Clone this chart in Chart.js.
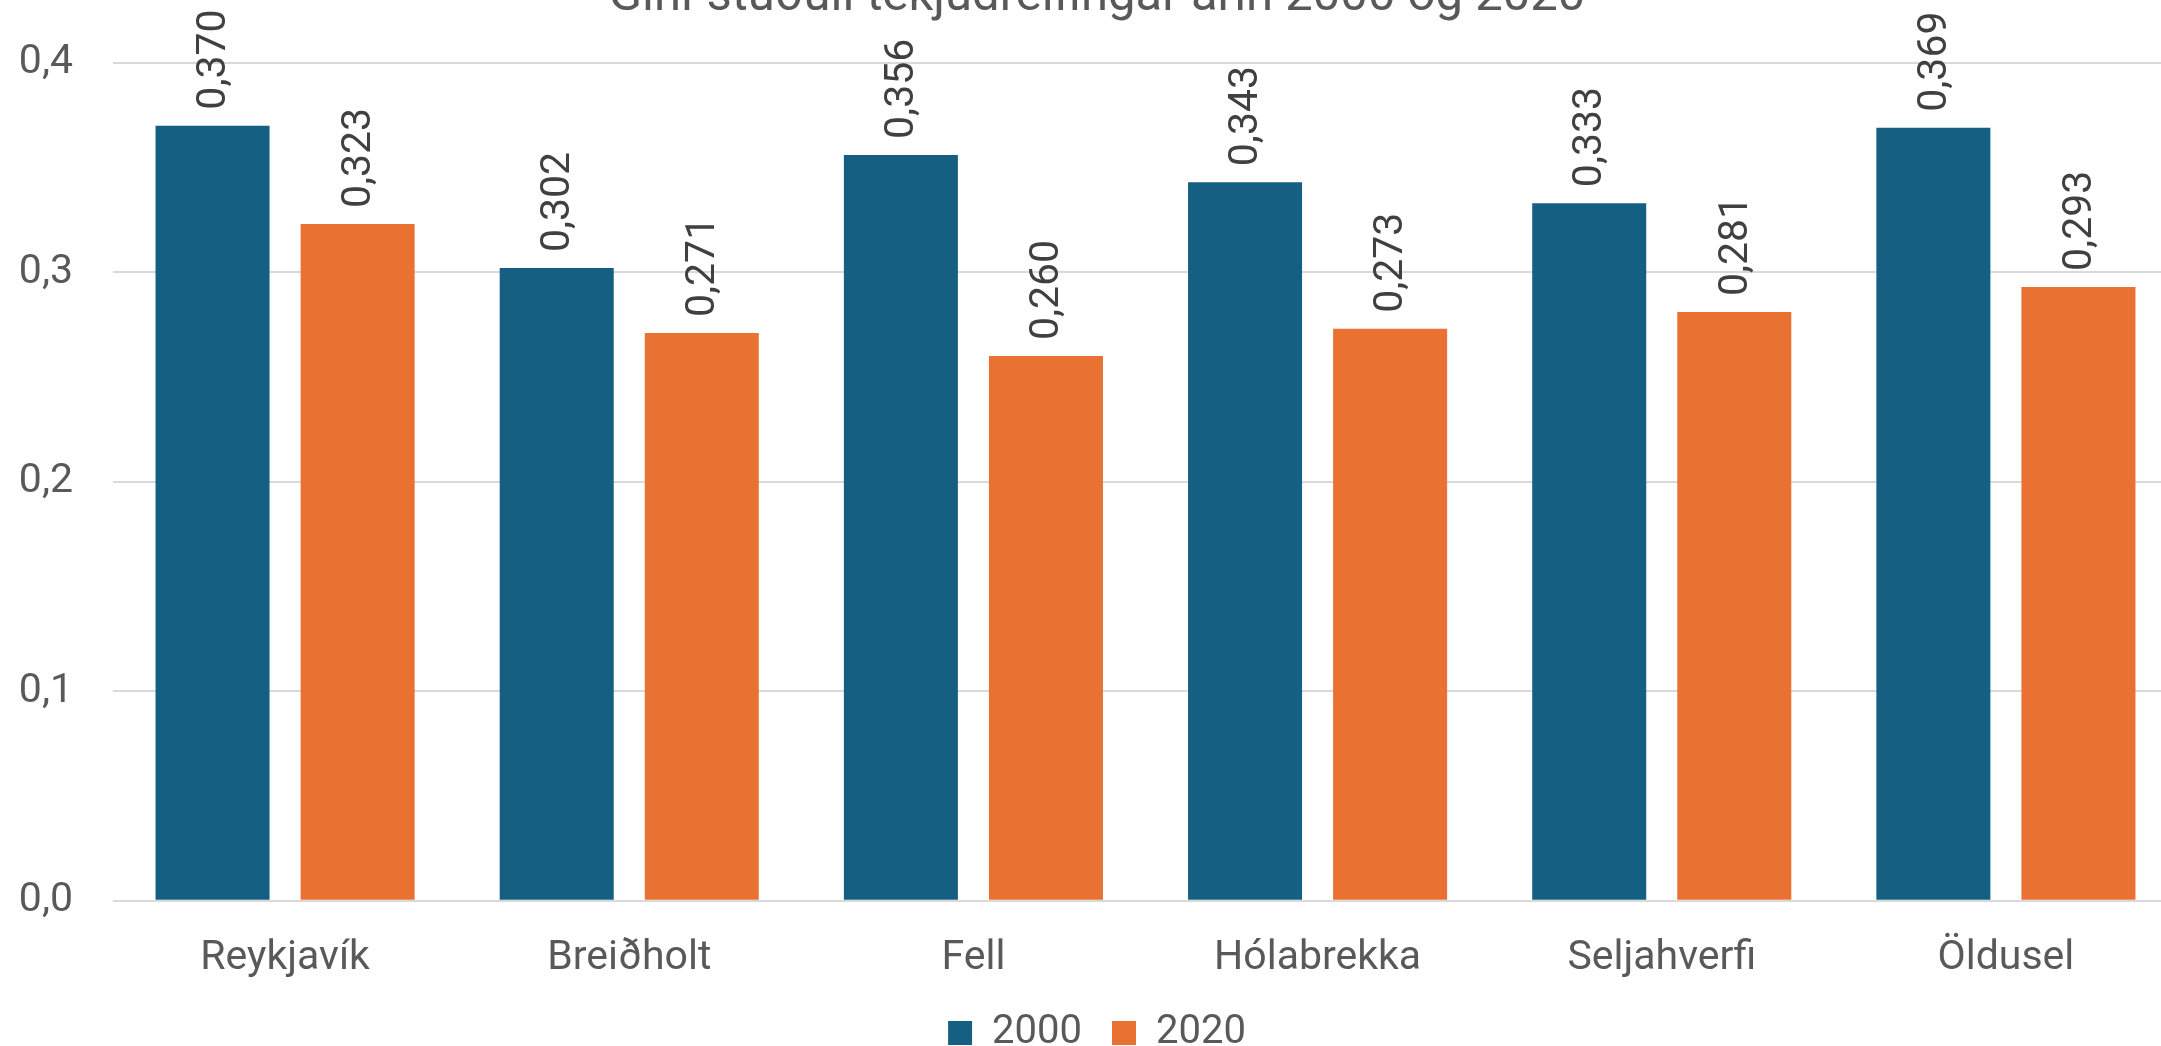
<!DOCTYPE html>
<html>
<head>
<meta charset="utf-8">
<script src="https://cdn.jsdelivr.net/npm/chart.js@4/dist/chart.umd.min.js"></script>
<style>
  html, body { margin: 0; padding: 0; background: #fff; overflow: hidden; }
  #wrap { position: absolute; left: 0; top: -32px; width: 2210px; height: 1095px; }
</style>
</head>
<body>
<div id="wrap"><canvas id="barChart" width="2210" height="1095"></canvas></div>
<script>
var categories = ['Reykjavík', 'Breiðholt', 'Fell', 'Hólabrekka', 'Seljahverfi', 'Öldusel'];
var values2000 = [0.370, 0.302, 0.356, 0.343, 0.333, 0.369];
var values2020 = [0.323, 0.271, 0.260, 0.273, 0.281, 0.293];
var seriesNames = ['2000', '2020'];
var yTicks = [0, 0.1, 0.2, 0.3, 0.4];

function comma(v, d) {
    return v.toFixed(d).replace('.', ',');
}

// rotated value labels above each bar
var barLabels = {
    id: 'barLabels',
    afterDatasetsDraw: function (chart) {
        var ctx = chart.ctx;
        ctx.save();
        ctx.font = '41px Roboto';
        ctx.fillStyle = '#404040';
        ctx.textAlign = 'left';
        ctx.textBaseline = 'middle';
        chart.data.datasets.forEach(function (ds, i) {
            chart.getDatasetMeta(i).data.forEach(function (bar, j) {
                ctx.save();
                ctx.translate(bar.x + 2, bar.y - 16);
                ctx.rotate(-Math.PI / 2);
                ctx.fillText(comma(ds.data[j], 3), 0, 0);
                ctx.restore();
            });
        });
        ctx.restore();
    }
};

var barChartCanvas = document.getElementById('barChart').getContext('2d');

new Chart(barChartCanvas, {
    type: 'bar',
    data: {
        labels: categories,
        datasets: [
            { label: seriesNames[0], data: values2000, backgroundColor: '#156082' },
            { label: seriesNames[1], data: values2020, backgroundColor: '#E97132' }
        ]
    },
    options: {
        responsive: false,
        animation: false,
        maintainAspectRatio: false,
        categoryPercentage: 0.843,
        barPercentage: 0.786,
        layout: { padding: { left: 16, right: 32, top: 0, bottom: 0 } },
        plugins: {
            tooltip: { enabled: false },
            title: {
                display: true,
                text: 'Gini-stuðull tekjudreifingar árin 2000 og 2020',
                color: '#595959',
                font: { family: 'Roboto', size: 49, weight: 'normal' },
                padding: { top: 0, bottom: 36 }
            },
            legend: {
                position: 'bottom',
                labels: {
                    color: '#595959',
                    font: { family: 'Roboto', size: 40 },
                    boxWidth: 24,
                    boxHeight: 24,
                    padding: 30
                }
            }
        },
        scales: {
            x: {
                grid: { display: false, drawTicks: false },
                border: { display: false },
                ticks: {
                    color: '#595959',
                    font: { family: 'Roboto', size: 41 },
                    padding: 33,
                    maxRotation: 0
                },
                afterFit: function (axis) {
                    axis.paddingLeft = 0;
                    axis.paddingRight = 0;
                    axis.height -= 33;
                }
            },
            y: {
                min: 0,
                max: 0.4,
                afterBuildTicks: function (axis) {
                    axis.ticks = yTicks.map(function (v) { return { value: v }; });
                },
                afterFit: function (axis) {
                    axis.width = 97;
                },
                grid: { color: '#d9d9d9', lineWidth: 2, drawTicks: false },
                border: { display: false },
                ticks: {
                    color: '#595959',
                    font: { family: 'Roboto', size: 41 },
                    padding: 40,
                    callback: function (v) { return comma(v, 1); }
                }
            }
        }
    },
    plugins: [barLabels]
});
</script>
</body>
</html>
